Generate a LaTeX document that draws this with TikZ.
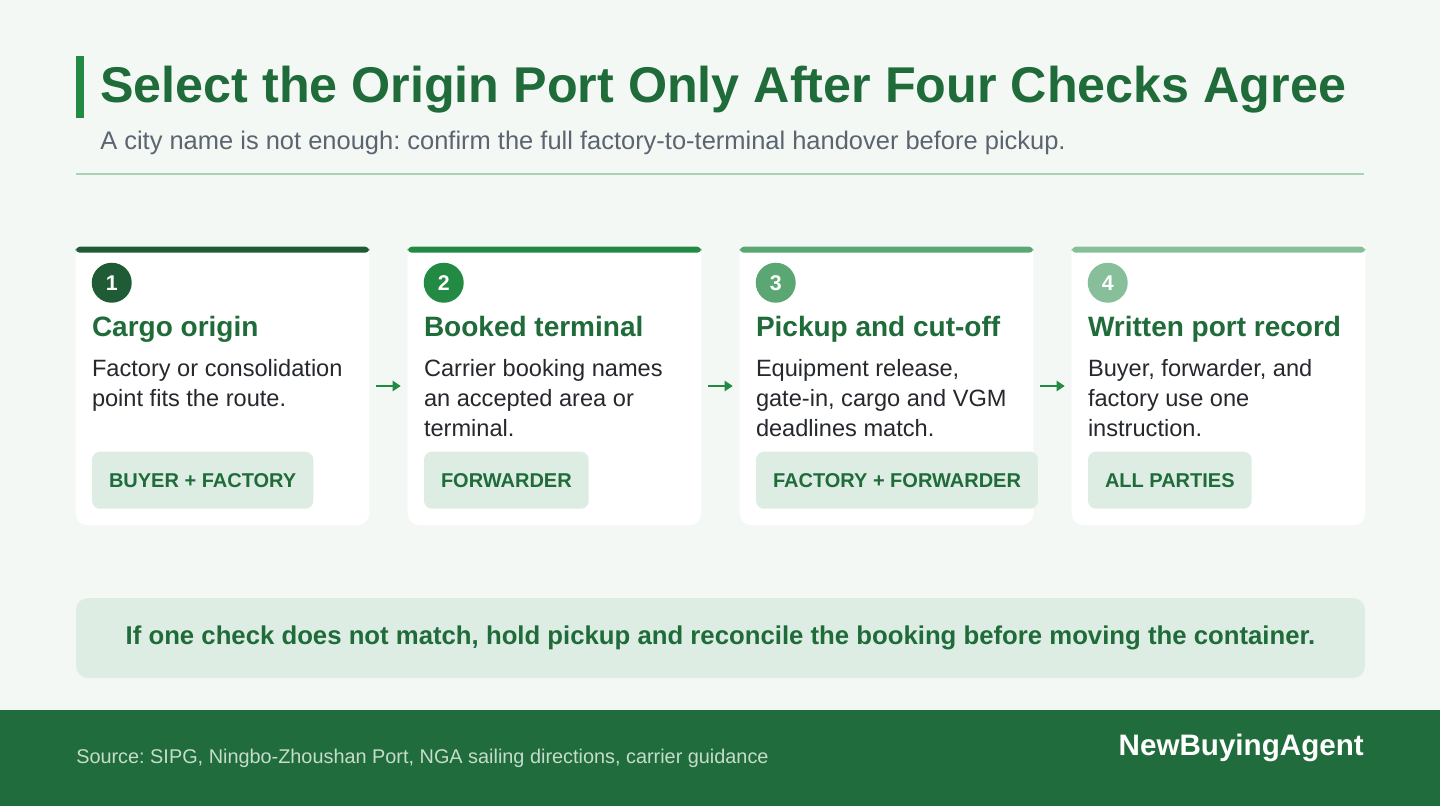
\documentclass[tikz,border=0pt]{standalone}
\usepackage{fontspec}
\setmainfont{Liberation Sans}
\usetikzlibrary{positioning, arrows.meta, calc}
\frenchspacing

\definecolor{pagebg}{HTML}{F4F8F5}
\definecolor{titlegreen}{HTML}{1F6B3A}
\definecolor{accent}{HTML}{238A43}
\definecolor{subgrey}{HTML}{5B6470}
\definecolor{rulegreen}{HTML}{A9D3B5}
\definecolor{stepone}{HTML}{1F5C36}
\definecolor{steptwo}{HTML}{238A43}
\definecolor{stepthree}{HTML}{5AA774}
\definecolor{stepfour}{HTML}{86BF99}
\definecolor{bodytext}{HTML}{25282D}
\definecolor{tagfill}{HTML}{DDEDE3}
\definecolor{footergreen}{HTML}{206C3C}
\definecolor{sourcetext}{HTML}{C5DCCB}

\begin{document}
\begin{tikzpicture}[
  x=0.75pt, y=-0.75pt,
  >={Triangle[length=6pt, width=7.5pt]},
  card/.style={inner sep=0pt, minimum width=219.75pt, minimum height=208.5pt},
  badge/.style={circle, inner sep=0pt, minimum size=30pt, text=white, font=\fontsize{16}{19}\selectfont\bfseries},
  cardhead/.style={anchor=base west, inner sep=0pt, text=titlegreen, font=\fontsize{21}{25}\selectfont\bfseries},
  cardbody/.style={anchor=north west, inner sep=0pt, align=left, text=bodytext, font=\fontsize{17.7}{22.5}\selectfont},
  owner/.style={anchor=west, fill=tagfill, rounded corners=6pt, inner xsep=12.75pt, inner ysep=0pt,
    minimum height=42.75pt, text=titlegreen, font=\fontsize{15}{18}\selectfont\bfseries},
  flow/.style={->, accent, line width=1.5pt, shorten <=5.25pt, shorten >=5.25pt},
  banner/.style={fill=tagfill, rounded corners=9pt, minimum width=966.75pt, minimum height=60pt,
    text=titlegreen, font=\fontsize{19.3}{23}\selectfont\bfseries}
]

% Page background and footer band
\fill[pagebg] (0,0) rectangle (1440,806);
\fill[footergreen] (0,710) rectangle (1440,806);

% Title block
\fill[accent] (76,56) rectangle (84,118);
\node[anchor=base west, inner sep=0pt, text=titlegreen, font=\fontsize{37.7}{45}\selectfont\bfseries]
  (title) at (100,103) {Select the Origin Port Only After Four Checks Agree};
\node[anchor=base west, inner sep=0pt, text=subgrey, font=\fontsize{19.1}{23}\selectfont]
  (subtitle) at (100,150) {A city name is not enough: confirm the full factory-to-terminal handover before pickup.};
\draw[rulegreen, line width=1.5pt] (76,174) -- (1364,174);

% Four check cards
\foreach \i/\col/\head/\body/\who in {
  1/stepone/{Cargo origin}/{Factory or consolidation\\point fits the route.}/{BUYER + FACTORY},
  2/steptwo/{Booked terminal}/{Carrier booking names\\an accepted area or\\terminal.}/{FORWARDER},
  3/stepthree/{Pickup and cut-off}/{Equipment release,\\gate-in, cargo and VGM\\deadlines match.}/{FACTORY + FORWARDER},
  4/stepfour/{Written port record}/{Buyer, forwarder, and\\factory use one\\instruction.}/{ALL PARTIES}
} {
  \node[card] (card-\i) at (222.5+332*\i-332, 386) {};
  \fill[white] (card-\i.north west) [rounded corners=9pt] -- (card-\i.south west)
    -- (card-\i.south east) [sharp corners] -- (card-\i.north east) -- cycle;
  \fill[\col, rounded corners=3pt] (card-\i.north west) rectangle ($(card-\i.north east)+(0,6)$);
  \node[badge, fill=\col] (badge-\i) at ($(card-\i.north west)+(36,36)$) {\i};
  \node[cardhead] (head-\i) at ($(card-\i.north west)+(16,90)$) {\head};
  \node[cardbody] (body-\i) at ($(card-\i.north west)+(16,112)$) {\body};
  \node[owner] (who-\i) at ($(card-\i.north west)+(16,233.5)$) {\who};
}

% Small arrows between the cards
\foreach \i/\j in {1/2, 2/3, 3/4}
  \draw[flow] (card-\i.east) -- (card-\j.west);

% Rule for a failed check
\node[banner] (hold) at (720.5,638)
  {If one check does not match, hold pickup and reconcile the booking before moving the container.};

% Footer texts
\node[anchor=base west, inner sep=0pt, text=sourcetext, font=\fontsize{14.9}{18}\selectfont]
  (source) at (76,763) {Source: SIPG, Ningbo-Zhoushan Port, NGA sailing directions, carrier guidance};
\node[anchor=base east, inner sep=0pt, text=white, font=\fontsize{22.2}{26}\selectfont\bfseries]
  (brand) at (1364,755) {NewBuyingAgent};

\end{tikzpicture}
\end{document}
